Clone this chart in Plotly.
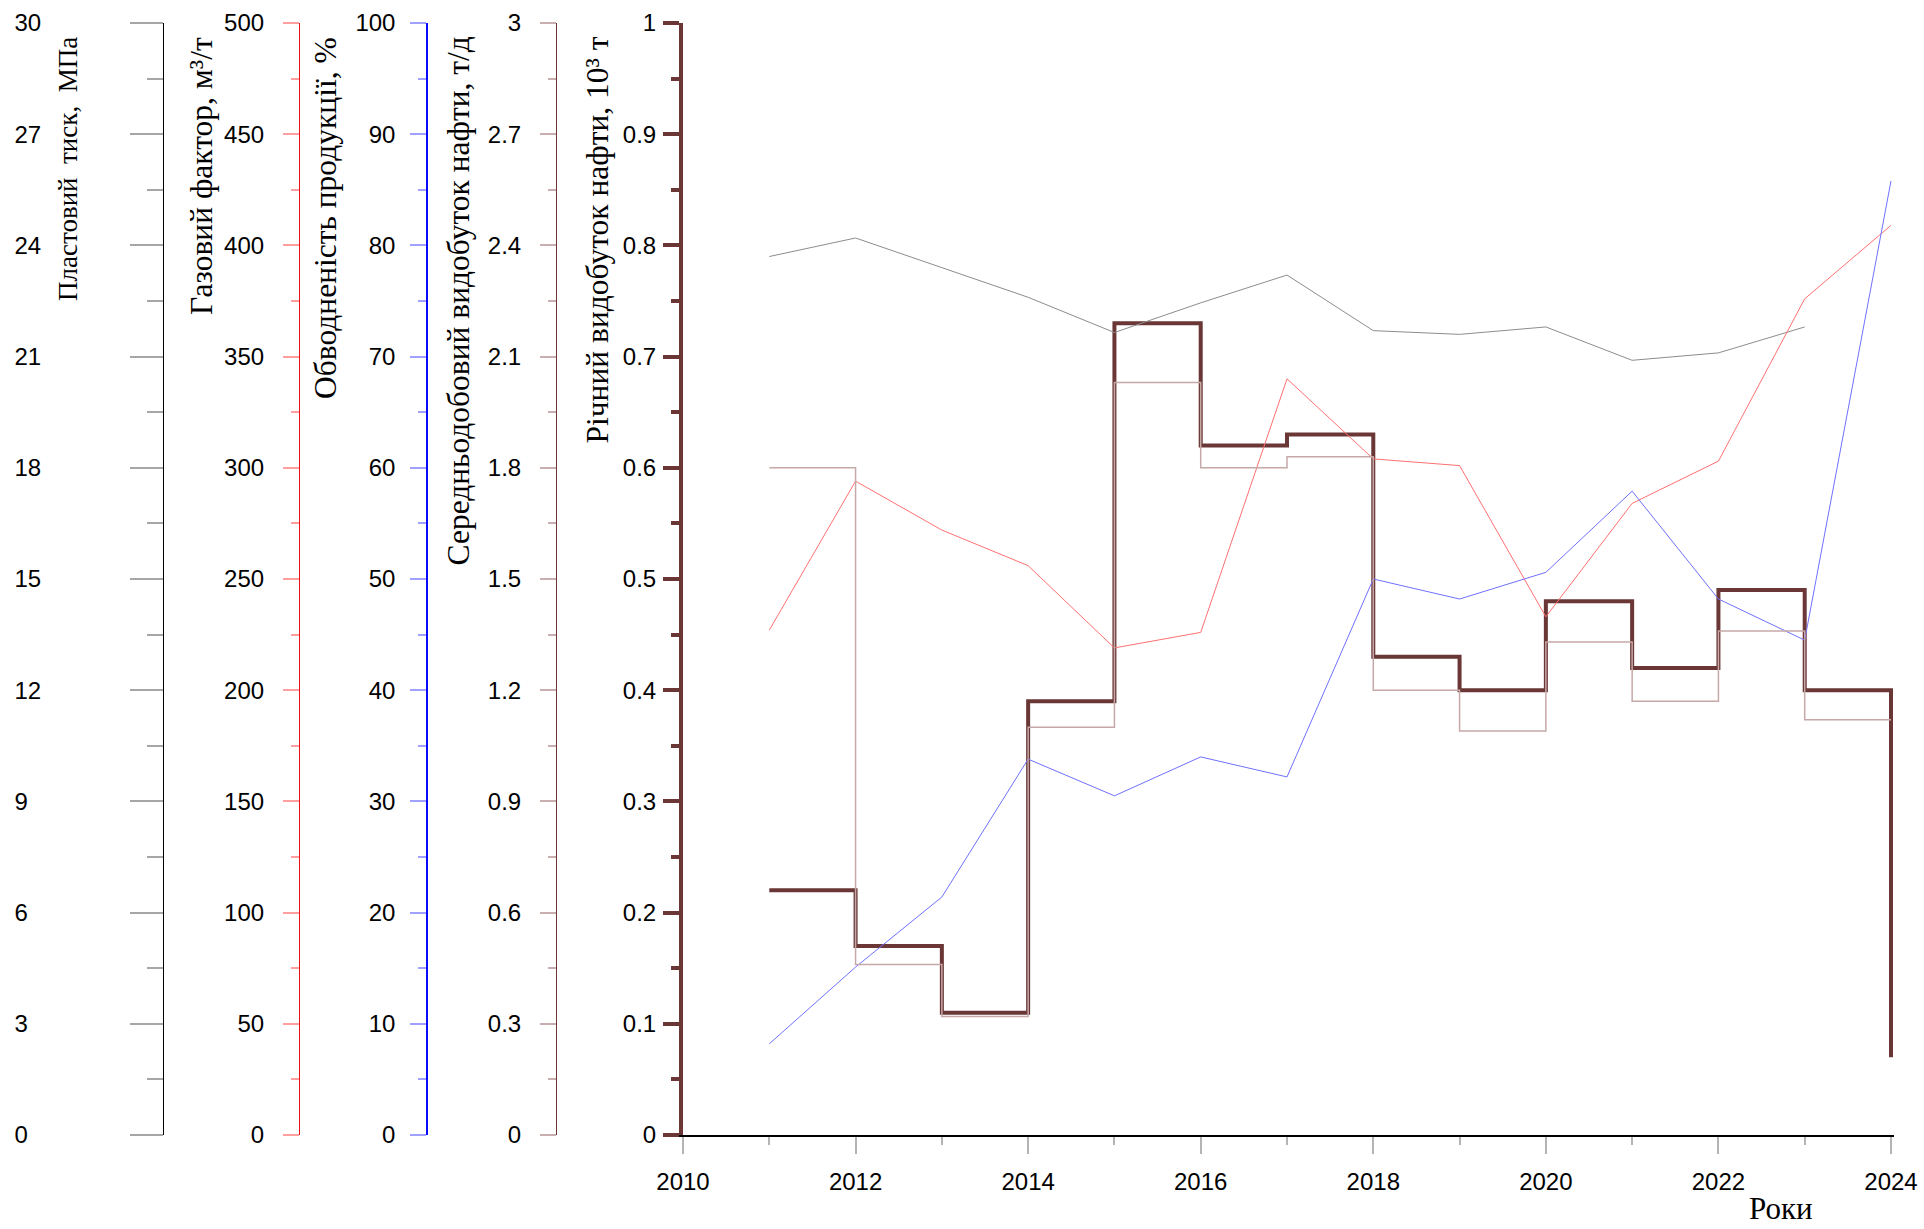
import plotly.graph_objects as go

# ---- data -------------------------------------------------------------
years = list(range(2011, 2025))
annual_oil = [0.22, 0.17, 0.11, 0.39, 0.73, 0.62, 0.63, 0.43, 0.40, 0.48, 0.42, 0.49, 0.40, 0.07]   # 10^3 t
daily_oil = [1.80, 0.46, 0.32, 1.10, 2.03, 1.80, 1.83, 1.20, 1.09, 1.33, 1.17, 1.36, 1.12, 1.12]    # t/day
pressure_years = list(range(2011, 2024))
pressure = [23.7, 24.2, 23.4, 22.6, 21.65, 22.45, 23.2, 21.7, 21.6, 21.8, 20.9, 21.1, 21.8]       # MPa
gas_factor = [227, 294, 272, 256, 219, 226, 340, 304, 301, 233, 284, 303, 376, 409]                # m3/t
water_cut = [8.2, 15.1, 21.4, 33.8, 30.5, 34.0, 32.2, 50.0, 48.2, 50.6, 57.9, 48.2, 44.5, 85.8]     # %

pressure_ticks = list(range(0, 31, 3))
gas_ticks = list(range(0, 501, 50))
water_ticks = list(range(0, 101, 10))
daily_ticks = [0, 0.3, 0.6, 0.9, 1.2, 1.5, 1.8, 2.1, 2.4, 2.7, 3]
daily_tick_text = ["0", "0.3", "0.6", "0.9", "1.2", "1.5", "1.8", "2.1", "2.4", "2.7", "3"]
annual_ticks = [0, 0.1, 0.2, 0.3, 0.4, 0.5, 0.6, 0.7, 0.8, 0.9, 1]
annual_tick_text = ["0", "0.1", "0.2", "0.3", "0.4", "0.5", "0.6", "0.7", "0.8", "0.9", "1"]
year_ticks = list(range(2010, 2025, 2))

NB = "\u00a0"
titles = [
    f"Пластовий{NB}{NB}тиск,{NB}{NB}МПа",
    "Газовий фактор, м³/т",
    "Обводненість продукції, %",
    "Середньодобовий видобуток нафти, т/д",
    "Річний видобуток нафти, 10³ т",
]
x_title = "Роки"

# ---- geometry / style ---------------------------------------------------
W, H = 1924, 1229
BROWN = "#6a3636"
SANS = "Liberation Sans, Arial, sans-serif"
SERIF = "Liberation Serif, Times New Roman, serif"

x0_px, x2024_px = 683, 1891
px_per_year = (x2024_px - x0_px) / 14
x_end = 2024.03
x_dom = [x0_px / W, (x0_px + (x_end - 2010) * px_per_year) / W]
y_top_px, y_bot_px = 23, 1135
y_dom = [(H - y_bot_px) / H, (H - y_top_px) / H]

fig = go.Figure()

fig.add_trace(go.Scatter(x=pressure_years, y=pressure, yaxis="y2", mode="lines",
                         line=dict(color="#8c8c8c", width=1), showlegend=False))
fig.add_trace(go.Scatter(x=years, y=gas_factor, yaxis="y3", mode="lines",
                         line=dict(color="#ff7070", width=1), showlegend=False))
fig.add_trace(go.Scatter(x=years, y=water_cut, yaxis="y4", mode="lines",
                         line=dict(color="#7070ff", width=1), showlegend=False))
fig.add_trace(go.Scatter(x=years, y=daily_oil, yaxis="y5", mode="lines",
                         line=dict(color="#c6a8a8", width=1.5, shape="hv"), showlegend=False))
fig.add_trace(go.Scatter(x=years, y=annual_oil, yaxis="y", mode="lines",
                         line=dict(color=BROWN, width=4, shape="hv"), showlegend=False))

tick_font = dict(family=SANS, size=24, color="black")


def side_axis(pos, rng, vals, text, line_color, line_w, tick_color, len_major, len_minor,
              minor_step, standoff):
    return dict(
        overlaying="y", anchor="free", position=pos, side="left", automargin=False,
        domain=y_dom, range=rng, tickmode="array", tickvals=vals, ticktext=text,
        showline=True, linecolor=line_color, linewidth=line_w,
        ticks="outside", ticklen=len_major, tickwidth=1.5, tickcolor=tick_color,
        minor=dict(ticks="outside", dtick=minor_step, ticklen=len_minor, tickwidth=1.5,
                   tickcolor=tick_color, showgrid=False),
        ticklabelstandoff=standoff,
        showgrid=False, zeroline=False, tickfont=tick_font,
    )


pressure_text = [f"{v}\u2007" if v < 10 else f"{v}" for v in pressure_ticks]

fig.update_layout(
    width=W, height=H, autosize=False,
    margin=dict(l=0, r=0, t=0, b=0, pad=0),
    paper_bgcolor="white", plot_bgcolor="white",
    showlegend=False,
    xaxis=dict(
        domain=x_dom, range=[2010, x_end], tickmode="array", tickvals=year_ticks,
        automargin=False,
        showline=True, linecolor="black", linewidth=1.5,
        ticks="outside", ticklen=17, tickwidth=1.5, tickcolor="#b4b4b4",
        minor=dict(ticks="outside", dtick=1, ticklen=8, tickwidth=1.5, tickcolor="#b4b4b4",
                   showgrid=False),
        ticklabelstandoff=7,
        showgrid=False, zeroline=False, tickfont=tick_font,
    ),
    yaxis=dict(
        domain=y_dom, range=[0, 1], tickmode="array", tickvals=annual_ticks,
        ticktext=annual_tick_text, anchor="x", automargin=False,
        showline=True, linecolor=BROWN, linewidth=4,
        ticks="outside", ticklen=16, tickwidth=3.5, tickcolor=BROWN,
        minor=dict(ticks="outside", dtick=0.05, ticklen=8, tickwidth=3.5, tickcolor=BROWN,
                   showgrid=False),
        ticklabelstandoff=2,
        showgrid=False, zeroline=False, tickfont=tick_font,
    ),
    yaxis2=side_axis(163 / W, [0, 30], pressure_ticks, pressure_text, "black", 1,
                     "#a6a6a6", 33, 16, 1.5, 84),
    yaxis3=side_axis(299 / W, [0, 500], gas_ticks, [str(v) for v in gas_ticks], "#ee1010", 1.2,
                     "#ff9f9f", 16, 8, 25, 14),
    yaxis4=side_axis(427 / W, [0, 100], water_ticks, [str(v) for v in water_ticks], "#0a0aff", 1.5,
                     "#a0a0ff", 16, 8, 5, 10),
    yaxis5=side_axis(556 / W, [0, 3], daily_ticks, daily_tick_text, BROWN, 1,
                     "#c8aeae", 16, 8, 0.15, 14),
)

# axis titles, rotated and aligned to the top of each scale
title_x = [68, 202, 326, 458, 597]
title_size = [27, 31.5, 31.5, 31.5, 31.5]
for tx, size, text in zip(title_x, title_size, titles):
    fig.add_annotation(
        x=tx / W, y=(H - 35) / H, xref="paper", yref="paper",
        text=text, textangle=-90, showarrow=False,
        xanchor="center", yanchor="top",
        font=dict(family=SERIF, size=size, color="black"),
    )

fig.add_annotation(
    x=1781 / W, y=(H - 1228) / H, xref="paper", yref="paper",
    text=x_title, showarrow=False, xanchor="center", yanchor="bottom",
    font=dict(family=SERIF, size=31, color="black"),
)

fig.write_html("out.html")
